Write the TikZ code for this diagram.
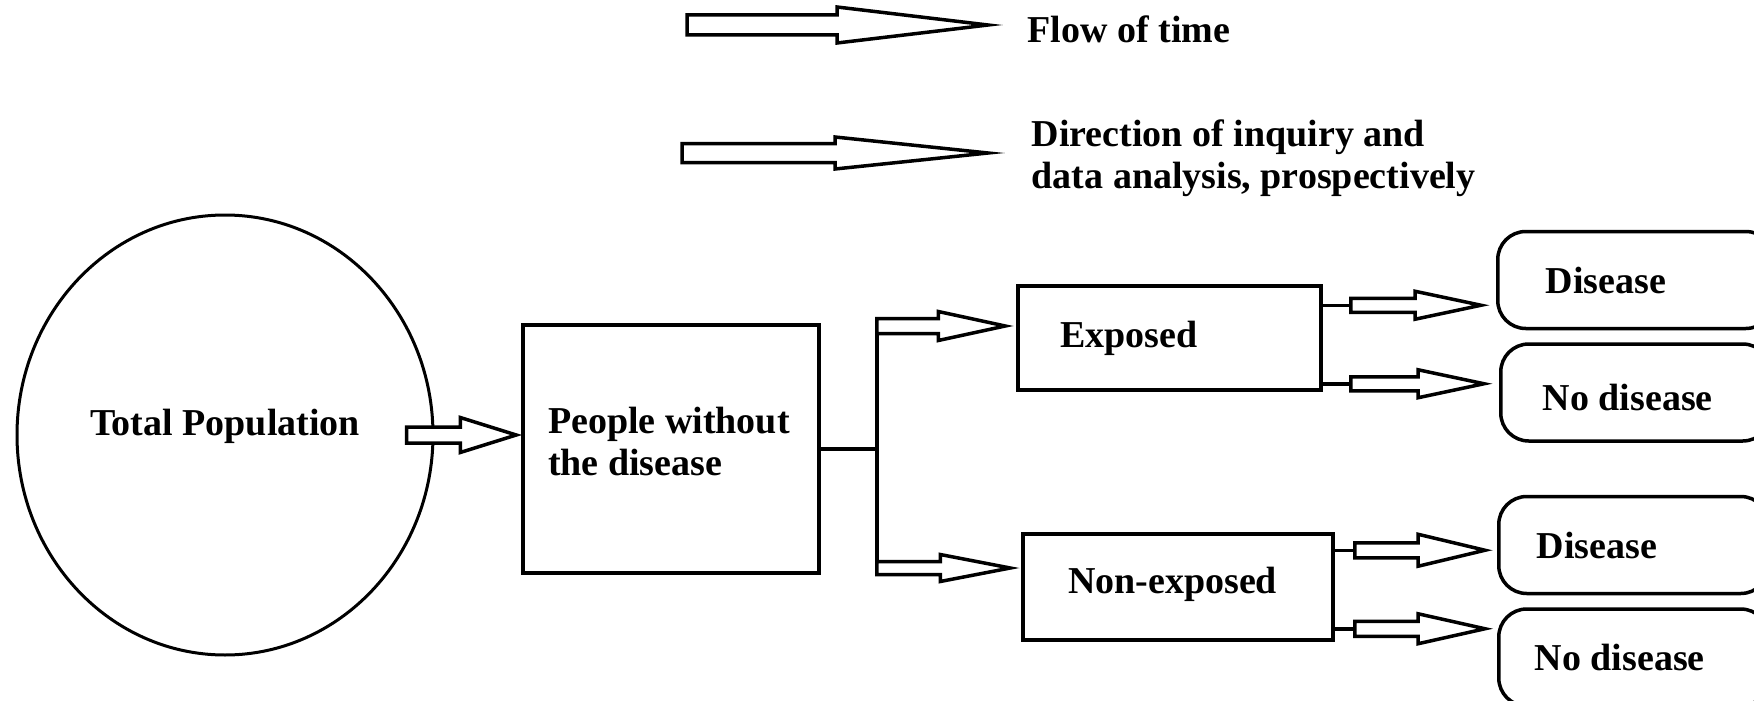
\documentclass[tikz,border=0pt]{standalone}
\usepackage{fontspec}
\setmainfont{Liberation Serif}
\usetikzlibrary{calc, positioning, shapes.geometric}

% hollow block arrow: tail, tip, shaft half width, head half width, head length
\newcommand{\fatarrow}[5]{%
  \draw[fat] let \p1=#1, \p2=#2 in
    (\x1,\y1+#3) -- (\x2-#5,\y1+#3) -- (\x2-#5,\y1+#4) -- (\x2,\y1)
    -- (\x2-#5,\y1-#4) -- (\x2-#5,\y1-#3) -- (\x1,\y1-#3) -- cycle;}

\begin{document}
\begin{tikzpicture}[x=1pt, y=-1pt, line width=3.5pt,
    every node/.style={font=\fontsize{38}{42}\selectfont\bfseries},
    fat/.style={draw, fill=white, line width=3.5pt},
    box/.style={draw, rectangle, align=flush left, inner ysep=0pt},
    outcome/.style={box, rounded corners=28pt, minimum width=270pt,
      minimum height=97pt, inner xsep=42pt, text width=186pt}]
            \useasboundingbox (0,0) rectangle (1754,701);
            \clip (0,0) rectangle (1754,701);

            % legend
            \coordinate (flowtail) at (687,25);
            \coordinate (flowtip) at (988,25);
            \node (flow) [right=38pt of flowtip, inner sep=0pt, yshift=-4pt] {Flow of time};
            \coordinate (dirtail) at (682,153);
            \coordinate (dirtip) at (988,153);
            \node (dir) [right=42pt of dirtip, inner sep=0pt, align=flush left, yshift=-5pt]
                {Direction of inquiry and\\data analysis, prospectively};
            \fatarrow{(flowtail)}{(flowtip)}{10}{18}{151}
            \fatarrow{(dirtail)}{(dirtip)}{9.5}{16}{153}

            % cohort
            \node (pop) [ellipse, draw, line width=3pt, minimum width=416pt,
                minimum height=440pt, text depth=25pt] at (225,435) {Total Population};
            \node (healthy) [box, minimum height=248pt, inner xsep=25pt,
                text width=246pt, text depth=57pt] at (671,449) {People without\\the disease};
            \node (exposed) [box, minimum height=104pt, inner xsep=42pt,
                text width=219pt] at (1169.5,338) {Exposed};
            \node (nonexp) [box, minimum height=106pt, inner xsep=45pt,
                text width=220pt, text depth=14pt] at (1178,587) {Non-exposed};

            \node (dis1) [outcome, anchor=west, inner xsep=48pt, text width=180pt] at (1496,280) {Disease};
            \node (nodis1) [outcome, below=12pt of dis1, text height=36pt] {No disease};
            \node (dis2) [outcome, anchor=west, inner xsep=38pt, text width=194pt] at (1497,545) {Disease};
            \node (nodis2) [outcome, below=12pt of dis2, inner xsep=36pt, text width=198pt] {No disease};

            \fatarrow{($(pop.east)+(-28,0)$)}{($(healthy.west)+(-5,0)$)}{8}{17.5}{56}

            % split by exposure
            \coordinate (fork) at ($(healthy.east)+(56,0)$);
            \coordinate (up) at ($(fork)+(0,-123)$);
            \coordinate (down) at ($(fork)+(0,119)$);
            \draw (healthy.east) -- (fork);
            \draw ($(up)+(0,-7.5)$) -- (down);
            \fatarrow{(up)}{($(exposed.west)+(-11,0)$)}{7.5}{14.5}{67}
            \fatarrow{(down)}{($(nonexp.west)+(-11,0)$)}{6.5}{13.5}{70}

            % outcomes
            \coordinate (e1) at ($(exposed.north east)+(0,21)$);
            \coordinate (e2) at ($(exposed.south east)+(0,-8)$);
            \coordinate (n1) at ($(nonexp.north east)+(0,18)$);
            \coordinate (n2) at ($(nonexp.south east)+(0,-13)$);
            \draw (e1) -- ++(28,0);
            \draw (e2) -- ++(28,0);
            \draw (n1) -- ++(20,0);
            \draw (n2) -- ++(20,0);
            \fatarrow{($(e1)+(28,0)$)}{($(dis1.west)+(-15,0)$)}{7}{14}{66}
            \fatarrow{($(e2)+(28,0)$)}{($(nodis1.west)+(-15,0)$)}{7}{14}{66}
            \fatarrow{($(n1)+(20,0)$)}{($(dis2.west)+(-12,0)$)}{7.5}{16}{67}
            \fatarrow{($(n2)+(20,0)$)}{($(nodis2.west)+(-12,0)$)}{7.5}{15}{67}

            \end{tikzpicture}
\end{document}
